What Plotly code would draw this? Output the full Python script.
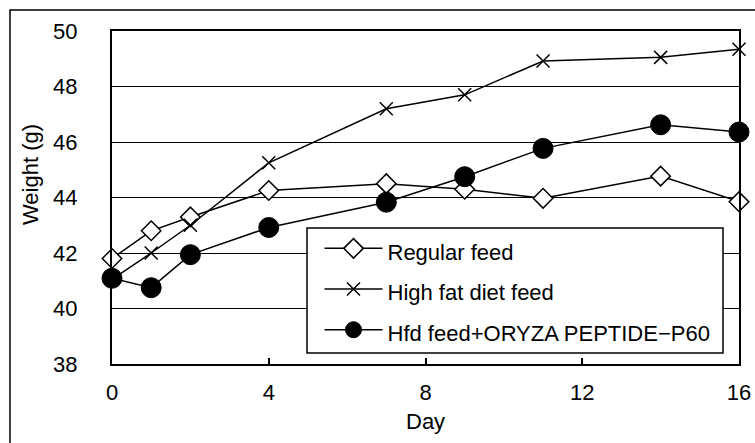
import plotly.graph_objects as go

days = [0, 1, 2, 4, 7, 9, 11, 14, 16]
regular_feed = [41.8, 42.8, 43.3, 44.25, 44.5, 44.3, 43.97, 44.77, 43.85]
high_fat = [41.05, 42.0, 43.0, 45.25, 47.2, 47.7, 48.92, 49.05, 49.34]
hfd_oryza = [41.09, 40.75, 41.94, 42.92, 43.83, 44.75, 45.77, 46.62, 46.36]

series_names = ["Regular feed", "High fat diet feed", "Hfd feed+ORYZA PEPTIDE\u2212P60"]
x_ticks = [0, 4, 8, 12, 16]
y_ticks = [38, 40, 42, 44, 46, 48, 50]

FONT = "Liberation Sans, Arial, sans-serif"

W, H = 755, 443
PL, PR, PT, PB = 112, 739, 31, 364          # plot area in window pixels
L, T, R, B = PL, PT, W - PR, H - PB
PW, PH = PR - PL, PB - PT


def px(x):
    return (x - PL) / PW


def py(y):
    return (PB - y) / PH


fig = go.Figure()
fig.add_trace(go.Scatter(
    x=days, y=regular_feed, mode="lines+markers", cliponaxis=False,
    name=f"<span style='font-size:22px'>{series_names[0]}</span>",
    line=dict(color="black", width=1.5),
    marker=dict(symbol="diamond", size=15, color="white", line=dict(color="black", width=1.5)),
))
fig.add_trace(go.Scatter(
    x=days, y=high_fat, mode="lines+markers", cliponaxis=False,
    name=f"<span style='font-size:22px'>{series_names[1]}</span>",
    line=dict(color="black", width=1.5),
    marker=dict(symbol="x-thin-open", size=13, color="black", line=dict(color="black", width=1.5)),
))
fig.add_trace(go.Scatter(
    x=days, y=hfd_oryza, mode="lines+markers", cliponaxis=False,
    name=f"<span style='font-size:22px'>{series_names[2]}</span>",
    line=dict(color="black", width=1.5),
    marker=dict(symbol="circle", size=20, color="black", line=dict(color="black", width=1)),
))

fig.update_layout(
    width=W, height=H,
    margin=dict(l=L, r=R, t=T, b=B, autoexpand=False),
    paper_bgcolor="white", plot_bgcolor="white",
    font=dict(family=FONT, size=22, color="black"),
    showlegend=True,
    legend=dict(
        x=px(319.5), y=py(223), xanchor="left", yanchor="top",
        bgcolor="rgba(0,0,0,0)", borderwidth=0,
        font=dict(family=FONT, size=29, color="black"),
        itemwidth=58, tracegroupgap=0,
    ),
    xaxis=dict(
        range=[0, 16], tickvals=x_ticks, ticktext=[str(v) for v in x_ticks],
        showgrid=False, zeroline=False, automargin=False,
        showline=True, linecolor="black", linewidth=2, mirror=True,
        ticks="inside", ticklen=6, tickwidth=1.5, tickcolor="black",
        ticklabelstandoff=8,
        tickfont=dict(family=FONT, size=22),
    ),
    yaxis=dict(
        range=[38, 50], tickvals=y_ticks, ticktext=[str(v) for v in y_ticks],
        showgrid=True, gridcolor="black", gridwidth=1,
        zeroline=False, automargin=False,
        showline=True, linecolor="black", linewidth=2, mirror=True,
        ticks="", ticklabelstandoff=28,
        tickfont=dict(family=FONT, size=22),
    ),
    annotations=[
        dict(text="Weight (g)", xref="paper", yref="paper", x=px(30), y=py(175),
             xanchor="center", yanchor="middle", textangle=-90, showarrow=False,
             font=dict(family=FONT, size=22)),
        dict(text="Day", xref="paper", yref="paper", x=0.5, y=py(421),
             xanchor="center", yanchor="middle", showarrow=False,
             font=dict(family=FONT, size=22)),
    ],
    shapes=[
        # outer frame of the figure (runs off the right and bottom edges)
        dict(type="rect", xref="paper", yref="paper",
             x0=px(10), x1=px(770), y0=py(460), y1=py(10),
             line=dict(color="black", width=1.5), fillcolor="rgba(0,0,0,0)", layer="below"),
        # legend box
        dict(type="rect", xref="paper", yref="paper",
             x0=px(307), x1=px(723), y0=py(353), y1=py(228),
             line=dict(color="black", width=1.5), fillcolor="white", layer="above"),
    ],
)

fig.write_html(
    "out.html",
    config={"displayModeBar": False},
    post_script="document.body.style.margin='0';document.body.style.overflow='hidden';",
)
